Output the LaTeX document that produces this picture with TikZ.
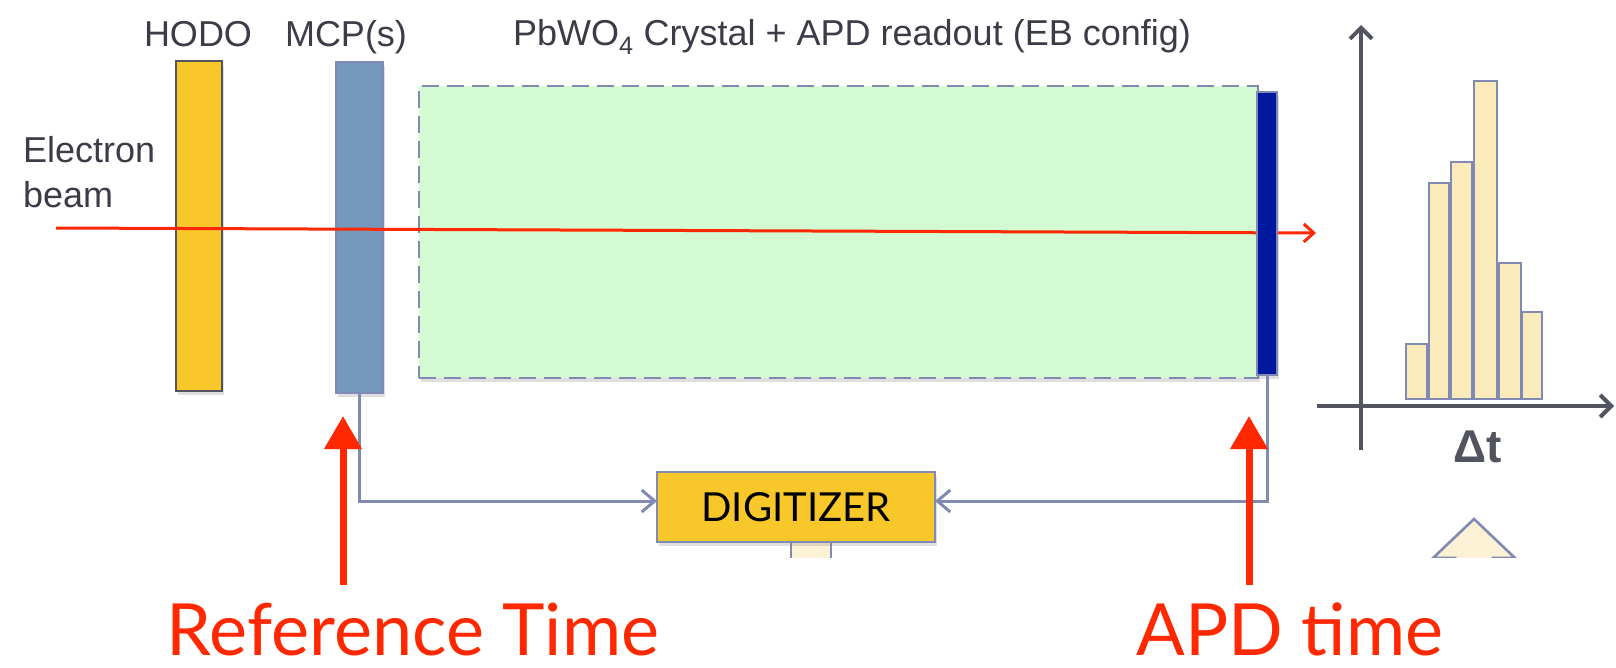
\documentclass[tikz,border=0pt]{standalone}
\usepackage{fontspec}
\setmainfont{Liberation Sans}
\newfontfamily\labelfont{Lato}
\usetikzlibrary{arrows.meta,shadows}
\definecolor{txtgray}{RGB}{60,60,72}
\definecolor{hodoyellow}{RGB}{248,200,42}
\definecolor{mcpblue}{RGB}{116,153,188}
\definecolor{xtalgreen}{RGB}{212,250,212}
\definecolor{apdblue}{RGB}{0,24,160}
\definecolor{edgeblue}{RGB}{128,138,178}
\definecolor{barfill}{RGB}{251,235,187}
\definecolor{stubfill}{RGB}{251,241,212}
\definecolor{axisgray}{RGB}{82,84,96}
\definecolor{hotred}{RGB}{255,40,0}

\begin{document}
\begin{tikzpicture}[x=1pt, y=-1pt,
  lbl/.style={text=txtgray, font=\fontsize{36}{40}\selectfont, inner sep=0pt},
  part/.style={draw=edgeblue, line width=2.6pt, inner sep=0pt, outer sep=0pt,
    drop shadow={shadow xshift=2pt, shadow yshift=-4pt, opacity=0.25}},
  wire/.style={draw=edgeblue, line width=3pt,
    -{Straight Barb[length=13pt, width=22pt, line width=3pt]}},
  axis/.style={draw=axisgray, line width=4pt,
    -{Straight Barb[length=11pt, width=22pt, line width=4pt]}},
  bar/.style={draw=edgeblue, line width=2.6pt, fill=barfill},
  stub/.style={draw=edgeblue, line width=2.6pt, fill=stubfill},
  hotarrow/.style={draw=hotred, line width=7pt, -{Triangle[length=33pt, width=36pt]}},
  hotlabel/.style={text=hotred, font=\labelfont\fontsize{72}{78}\selectfont, inner sep=0pt, anchor=base}]
  \useasboundingbox (0,0) rectangle (1616,668);

  % Labels on top
  \node[lbl, anchor=base] (hodolbl) at (198,47) {HODO};
  \node[lbl, anchor=base] (mcplbl) at (346,47) {MCP(s)};
  \node[lbl, anchor=base] (xtallbl) at (852,46) {PbWO\textsubscript{4} Crystal + APD readout (EB config)};
  \node[lbl, anchor=base west] (beamlbl) at (23,163) {Electron};
  \node[lbl, anchor=base west] at (23,208) {beam};

  % Stubs below the setup (cut at the bottom)
  \begin{scope}
    \clip (0,0) rectangle (1616,557);
    \draw[stub] (791,530) rectangle (831,600);
    \draw[stub] (1474,519) -- (1515,558) -- (1493,558) -- (1493,600)
      -- (1455,600) -- (1455,558) -- (1433,558) -- cycle;
  \end{scope}

  % Detectors
  \node[part, draw=axisgray, fill=hodoyellow, minimum width=46pt, minimum height=330pt] (hodo) at (199,226) {};
  \node[part, fill=mcpblue, minimum width=47pt, minimum height=331pt] (mcp) at (359.5,227.5) {};
  \node[part, dashed, dash pattern=on 17pt off 8pt, fill=xtalgreen, minimum width=839pt, minimum height=292pt] (xtal) at (838.5,232) {};

  % Beam
  \coordinate (beamin) at (56,228);
  \coordinate (beamout) at (1316,233);
  \draw[hotred, line width=3pt, -{Straight Barb[length=10pt, width=18pt, line width=3pt]}] (beamin) -- (beamout);

  \node[part, fill=apdblue, minimum width=20pt, minimum height=283pt] (apd) at (1267,233.5) {};

  % Readout
  \node[part, fill=hodoyellow, minimum width=278pt, minimum height=70pt,
    font=\labelfont\fontsize{40}{44}\selectfont] (digi) at (796,507) {DIGITIZER};
  \draw[wire] (mcp.south) |- ([yshift=6pt]digi.west);
  \draw[wire] (apd.south) |- ([yshift=6pt]digi.east);

  % Histogram
  \draw[axis] (1361,450) -- (1361,25);
  \draw[axis] (1317,406) -- (1614,406);
  \foreach \xl/\xr/\h in {1406/1427/344, 1429/1449/183, 1451/1472/162, 1474/1497/81, 1499/1521/263, 1522/1542/312}
    \draw[bar] (\xl,399) rectangle (\xr,\h);
  \node[lbl, anchor=base, font=\bfseries\fontsize{46}{50}\selectfont, text=axisgray] (dt) at (1478,462) {Δt};

  % Timing labels
  \node[hotlabel] (reflbl) at (413,655) {Reference Time};
  \node[hotlabel] (apdlbl) at (1290,655) {APD time};
  \coordinate (reftail) at (343,585);
  \coordinate (refhead) at (343,416);
  \coordinate (apdtail) at (1249,585);
  \coordinate (apdhead) at (1249,416);
  \draw[hotarrow] (reftail) -- (refhead);
  \draw[hotarrow] (apdtail) -- (apdhead);
\end{tikzpicture}
\end{document}
